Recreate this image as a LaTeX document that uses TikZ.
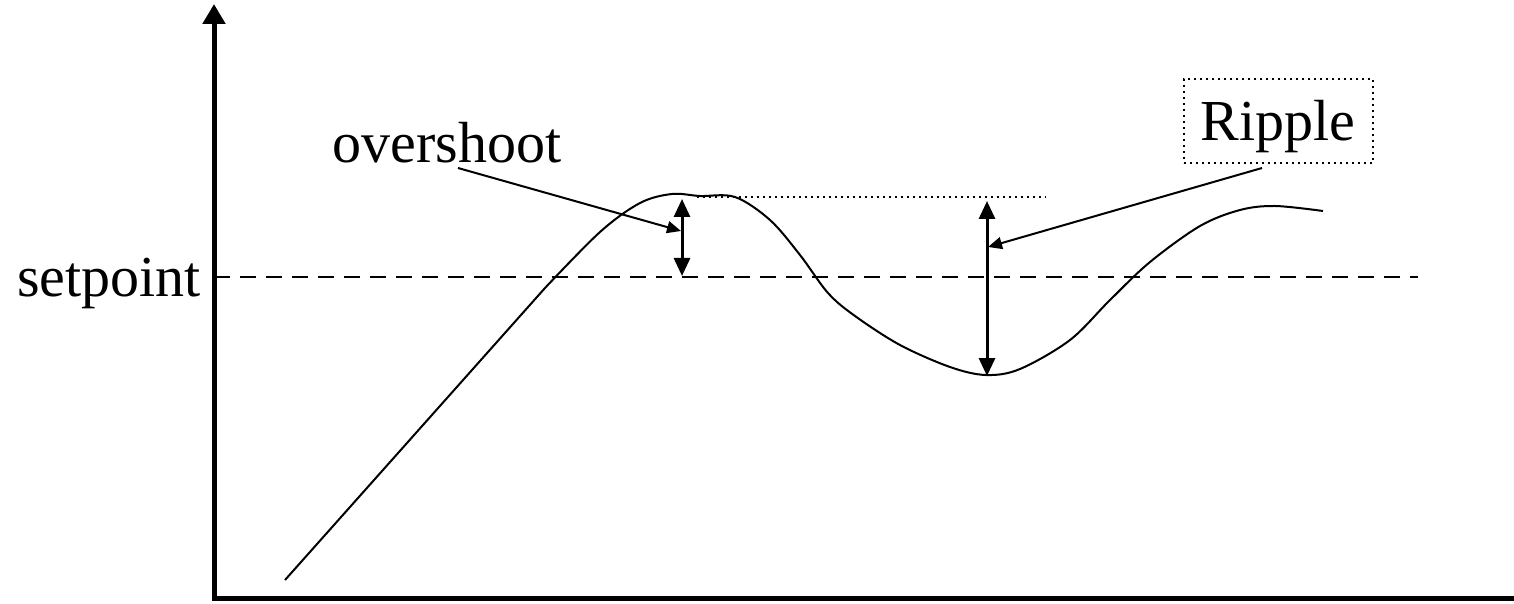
\documentclass[tikz,border=0pt]{standalone}
\usepackage{fontspec}
\setmainfont{Liberation Serif}
\usetikzlibrary{arrows.meta}
\begin{document}
\begin{tikzpicture}[x=0.5pt,y=-0.5pt,
  axis/.style={line width=2.5pt},
  curve/.style={line width=1pt, line join=round},
  dimarrow/.style={line width=1.5pt, {Triangle[width=8pt,length=9pt]}-{Triangle[width=8pt,length=9pt]}},
  callout/.style={line width=1pt, -{Triangle[width=6pt,length=7pt]}},
  lbl/.style={font=\fontsize{29}{34}\selectfont, inner sep=0pt, anchor=base}]
\useasboundingbox (0,0) rectangle (1514,604);
% axes
\coordinate (ytop) at (214,4);
\coordinate (xend) at (1534,598);
\draw[axis,-{Triangle[width=11pt,length=10pt]}] (214,600) -- (ytop);
\draw[axis,-{Triangle[width=11pt,length=10pt]}] (212,598) -- (xend);
% setpoint
\node[lbl] (sp) at (109,296) {setpoint};
\coordinate (spL) at (214,277);
\coordinate (spR) at (1418,277);
\draw[line width=1pt, dash pattern=on 8pt off 5pt] (spL) -- (spR);
% dotted peak level
\coordinate (dotL) at (697,197);
\coordinate (dotR) at (1046,197);
\draw[line width=1pt, dotted] (dotL) -- (dotR);
% response curve
\draw[curve] (285,580) -- (545,288)
  plot[smooth, tension=0.55] coordinates {(545,288) (600,232) (640,203) (672,194) (700,196) (735,197) (770,220) (800,255) (828,293) (855,316) (900,345) (950,367) (986,375) (1020,369) (1070,340) (1110,300) (1150,262) (1200,226) (1240,210) (1275,206) (1323,211)};
% overshoot
\coordinate (osT) at (682,199);
\coordinate (osB) at (682,276);
\draw[dimarrow] (osT) -- (osB);
\node[lbl] (os) at (447,163) {overshoot};
\coordinate (osS) at (458,168);
\coordinate (osE) at (681,231);
\draw[callout] (osS) -- (osE);
% ripple
\coordinate (rpT) at (987,201);
\coordinate (rpB) at (987,376);
\draw[dimarrow] (rpT) -- (rpB);
\node[draw, line width=1pt, dotted, minimum width=94.5pt, minimum height=42pt, inner sep=0pt] (rbox) at (1278.5,121) {};
\node[lbl] (rp) at (1278,141) {Ripple};
\coordinate (rpS) at (1262,168);
\coordinate (rpE) at (988,247);
\draw[callout] (rpS) -- (rpE);
\end{tikzpicture}
\end{document}
